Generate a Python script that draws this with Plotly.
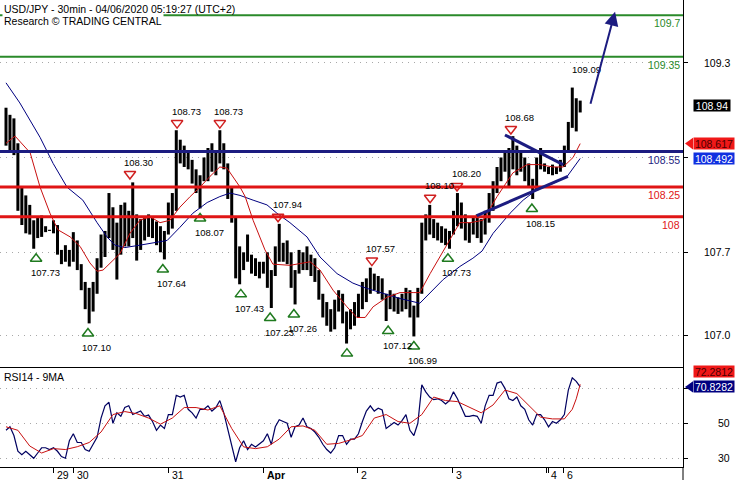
import plotly.graph_objects as go

# ---------------- data ----------------
bar_hour = list(range(146))
bar_high = [108.92,108.86,108.83,108.62,108.25,108.18,108.10,107.97,108.00,108.01,
            107.92,107.89,107.97,107.93,107.72,107.76,107.72,107.87,107.80,107.60,
            107.45,107.40,107.45,107.65,107.85,107.88,108.20,108.08,107.95,108.10,
            108.12,108.05,108.29,108.02,107.98,108.00,108.02,108.00,107.96,107.92,
            107.88,108.12,108.20,108.73,108.65,108.60,108.55,108.48,108.40,108.35,
            108.50,108.58,108.62,108.55,108.73,108.62,108.45,108.25,108.00,107.75,
            107.70,107.85,107.68,107.65,107.62,107.62,107.70,107.55,107.75,107.94,
            107.78,107.80,107.70,107.55,107.72,107.70,107.75,107.68,107.65,107.55,
            107.35,107.28,107.22,107.30,107.38,107.35,107.20,107.22,107.28,107.35,
            107.45,107.48,107.57,107.52,107.50,107.48,107.35,107.38,107.35,107.32,
            107.35,107.40,107.38,107.25,107.40,107.95,108.02,108.10,107.98,107.95,
            107.92,107.90,107.88,108.05,108.20,108.12,108.02,107.95,108.00,108.02,
            107.98,108.05,108.20,108.30,108.42,108.50,108.55,108.58,108.68,108.60,
            108.55,108.50,108.45,108.32,108.50,108.58,108.45,108.42,108.44,108.42,
            108.48,108.60,108.80,109.09,109.00,108.98]
bar_low = [108.60,108.55,108.52,108.05,107.93,107.86,107.85,107.73,107.82,107.83,
           107.87,107.88,107.86,107.68,107.60,107.62,107.58,107.62,107.55,107.38,
           107.22,107.10,107.20,107.35,107.57,107.66,107.82,107.72,107.47,107.68,
           107.75,107.75,107.82,107.63,107.72,107.80,107.83,107.82,107.76,107.70,
           107.64,107.85,107.90,108.05,108.45,108.42,108.40,108.28,108.20,108.07,
           108.30,108.30,108.38,108.35,108.45,108.40,108.15,107.95,107.48,107.43,
           107.55,107.62,107.52,107.50,107.48,107.52,107.40,107.23,107.50,107.62,
           107.62,107.60,107.40,107.26,107.52,107.55,107.55,107.50,107.45,107.30,
           107.15,107.08,107.03,107.05,107.20,107.10,106.93,107.05,107.08,107.15,
           107.22,107.28,107.35,107.38,107.35,107.30,107.12,107.22,107.20,107.18,
           107.20,107.22,107.15,106.99,107.15,107.35,107.80,107.85,107.82,107.80,
           107.78,107.76,107.73,107.85,107.92,107.90,107.80,107.78,107.85,107.82,
           107.78,107.85,107.95,108.05,108.20,108.30,108.38,108.25,108.40,108.35,
           108.38,108.30,108.25,108.15,108.22,108.40,108.38,108.36,108.35,108.36,
           108.38,108.42,108.55,108.75,108.72,108.88]
last_price = 108.94

ma_fast_x = [0, 2.3, 6.1, 8.6, 11.1, 13.1, 16.2, 18.7, 21.2, 23, 24.5, 27, 28.8, 31.3, 33.8, 36.4,
             38.9, 41.4, 43.9, 46.5, 49, 51.5, 54, 55.8, 57.8, 59.1, 60.4, 62.4, 65.4, 67.4, 71.7,
             76.8, 79.3, 82.6, 86.1, 88.6, 90.7, 92.7, 96.2, 99.5, 102.8, 104.5, 107.1, 109.6,
             112.1, 114.6, 117.2, 120.5, 124, 128, 131.6, 134.8, 138.1, 140.7, 143.2, 145]
ma_fast_y = [108.62, 108.68, 108.54, 108.25, 108.03, 107.89, 107.83, 107.75, 107.61, 107.54, 107.55,
             107.63, 107.69, 107.86, 107.97, 108.00, 107.95, 107.97, 108.08, 108.17, 108.25, 108.34,
             108.42, 108.41, 108.31, 108.25, 108.17, 107.97, 107.72, 107.60, 107.59, 107.62, 107.55,
             107.38, 107.24, 107.15, 107.15, 107.24, 107.32, 107.36, 107.36, 107.36, 107.52, 107.66,
             107.80, 107.95, 107.95, 107.97, 108.17, 108.37, 108.44, 108.44, 108.42, 108.42, 108.50,
             108.617]
ma_slow_x = [0, 3.5, 8.6, 11.9, 15.4, 19.4, 23, 25.5, 27.5, 30, 33.8, 40.7, 43.9, 47.2, 50.8, 54,
             56.6, 59.1, 62.4, 65.9, 68.4, 71.7, 76, 79.3, 83.6, 87.6, 90.7, 94.4, 99.5, 104.5,
             107.1, 110.4, 114.6, 117.9, 120.2, 123, 127.3, 130.6, 134.1, 138.1, 141.7, 145]
ma_slow_y = [109.13, 108.96, 108.67, 108.45, 108.25, 108.14, 107.95, 107.83, 107.76, 107.74, 107.76,
             107.80, 107.91, 108.03, 108.12, 108.17, 108.20, 108.18, 108.14, 108.10, 108.03, 107.95,
             107.83, 107.66, 107.52, 107.44, 107.40, 107.36, 107.31, 107.27, 107.36, 107.47, 107.58,
             107.65, 107.71, 107.86, 108.03, 108.14, 108.23, 108.28, 108.34, 108.492]

rsi = [46,48,43,34,32,34,32,30,33,36,
       36,35,36,34,31,30,40,44,39,39,
       35,34,38,42,53,60,62,50,56,54,
       59,60,55,56,57,54,54.7,51,46,49,
       47,55,55,66,65,66,58,56,53,58,
       58,60,57,59,63,56,47,37,28,36,
       40,35,38,36.5,38,40,44,38,48,52,
       51,50,42,48,49,53,48,47,45,42,
       38,35,33,36,43,43,38,41,41,44,
       51,57,60,57,58.6,57.6,47,49,50.5,49,
       51.5,55,46,43,50,72,68,65,63.5,64,
       63,61,63,68,64,59,54,54,54.5,54,
       50,60,66,66,73,73.8,70,64,63,65,
       60,58,52,49,55,55,52,48,51,50,
       52,55,69,76,74,70.8282]
rsi_ma_x = [0,3,6,9,12,15,18,21,24,27,30,33,36,39,42,45,48,51,54,57,60,63,66,69,72,75,78,81,
            84,87,90,93,96,99,102,105,108,111,114,117,120,123,126,129,132,135,138,141,143,144,145]
rsi_ma_y = [48,46,37,33,35.5,35,36.6,39,45,55,56.7,55.5,53,49.5,53,59,59,57.6,60,47,36.5,35.5,
            36.6,41,48,48.5,46,38,38.5,40.5,43,53,55,51,50,55,65,63,62.4,59,56,60.5,69,67,60,
            53.5,52.5,52.5,58,64,72.2812]

levels = [109.7, 109.35, 108.55, 108.25, 108.0]
level_text = ["109.7", "109.35", "108.55", "108.25", "108"]

trend_down_x = [126.0, 140.7]
trend_down_y = [108.69, 108.44]
trend_up_x = [118.9, 141.9]
trend_up_y = [108.01, 108.34]
forecast_x = [147.5, 153.8]
forecast_y = [108.94, 109.73]

pivot_high_x = [31.3, 43.2, 54.0, 68.7, 92.4, 107.1, 113.9, 127.5]
pivot_high_v = [108.30, 108.73, 108.73, 107.94, 107.57, 108.10, 108.20, 108.68]
pivot_low_x = [7.6, 20.7, 39.6, 49.0, 59.3, 66.7, 72.7, 86.1, 96.5, 103.0, 111.6, 132.8]
pivot_low_v = [107.73, 107.10, 107.64, 108.07, 107.43, 107.23, 107.26, 106.93, 107.12, 106.99, 107.73, 108.15]
pivot_low_show = [True, True, True, True, True, True, True, False, True, True, True, True]
session_high_x = 143.2
session_high_v = 109.09

price_ticks = [109.3, 108.5, 107.7, 107.0]
price_tick_text = ["109.3", "", "107.7", "107.0"]
rsi_ticks = [70, 50, 30]
rsi_tick_text = ["", "50", "30"]
day_ticks = [11.95, 17.0, 41.0, 65.0, 88.7, 112.7, 136.5, 137.0, 140.7]
day_text = ["29", "30", "31", "<b>Apr</b>", "2", "3", "4", "", "6"]

# ---------------- styling ----------------
FONT = "Liberation Sans, Arial, sans-serif"
NAVY = "#1c1c80"
RED = "#e01515"
GREEN = "#2a8a2a"
X_RANGE = [-1.515, 170.96]
P_RANGE = [106.732, 109.829]
R_RANGE = [25.0, 82.2]
RSI_FRAC = 100 / 467
BOX_X = 693 / 683
PTR_X = 685 / 683
TICK_X = 732 / 683

fig = go.Figure()

bx, by = [], []
for h, hi, lo in zip(bar_hour, bar_high, bar_low):
    bx += [h, h, None]
    by += [lo, hi, None]
fig.add_trace(go.Scatter(x=bx, y=by, mode="lines", line=dict(color="black", width=3),
                         xaxis="x", yaxis="y", hoverinfo="skip"))
fig.add_trace(go.Scatter(x=ma_slow_x, y=ma_slow_y, mode="lines", line=dict(color="#000080", width=1),
                         xaxis="x", yaxis="y"))
fig.add_trace(go.Scatter(x=ma_fast_x, y=ma_fast_y, mode="lines", line=dict(color="#c81010", width=1),
                         xaxis="x", yaxis="y"))

fig.add_trace(go.Scatter(x=pivot_high_x, y=[v + 0.06 for v in pivot_high_v], mode="markers",
                         marker=dict(symbol="triangle-down-open", size=10, color="#d02020", line=dict(width=1.5)),
                         xaxis="x", yaxis="y"))
fig.add_trace(go.Scatter(x=pivot_low_x, y=[v - 0.085 for v in pivot_low_v], mode="markers",
                         marker=dict(symbol="triangle-up-open", size=10, color="#1f7a1f", line=dict(width=1.5)),
                         xaxis="x", yaxis="y"))

fig.add_trace(go.Scatter(x=bar_hour, y=rsi, mode="lines", line=dict(color="#000060", width=1.2),
                         xaxis="x2", yaxis="y2"))
fig.add_trace(go.Scatter(x=rsi_ma_x, y=rsi_ma_y, mode="lines", line=dict(color="#c81010", width=1),
                         xaxis="x2", yaxis="y2"))

shapes = []
lvl_colors = [GREEN, GREEN, NAVY, RED, RED]
lvl_widths = [2, 2, 3, 3, 3]
for v, c, w in zip(levels, lvl_colors, lvl_widths):
    shapes.append(dict(type="line", xref="paper", yref="y", x0=0, x1=1, y0=v, y1=v,
                       line=dict(color=c, width=w), layer="above"))
shapes.append(dict(type="line", xref="x", yref="y", x0=trend_down_x[0], x1=trend_down_x[1],
                   y0=trend_down_y[0], y1=trend_down_y[1], line=dict(color=NAVY, width=3)))
shapes.append(dict(type="line", xref="x", yref="y", x0=trend_up_x[0], x1=trend_up_x[1],
                   y0=trend_up_y[0], y1=trend_up_y[1], line=dict(color=NAVY, width=3)))
shapes.append(dict(type="line", xref="paper", yref="paper", x0=1, x1=1, y0=-13 / 467, y1=0,
                   line=dict(color="black", width=1)))

def pointer(yref, v, half, color):
    shapes.append(dict(type="path", xref="paper", yref=yref,
                       path=f"M {PTR_X},{v} L {BOX_X},{v + half} L {BOX_X},{v - half} Z",
                       fillcolor=color, line=dict(width=0)))

pointer("y", ma_fast_y[-1], 0.05, "#f01818")
pointer("y2", rsi[-1], 3.2, "#000080")

ann = []
ann.append(dict(text="USD/JPY - 30min - 04/06/2020 05:19:27 (UTC+2)", xref="paper", yref="paper",
                x=0, y=1, xanchor="left", yanchor="top", xshift=2, yshift=-1, showarrow=False,
                font=dict(family=FONT, size=10.5, color="black")))
ann.append(dict(text="Research © TRADING CENTRAL", xref="paper", yref="paper",
                x=0, y=1, xanchor="left", yanchor="top", xshift=2, yshift=-13, showarrow=False,
                bgcolor="white", borderpad=1, font=dict(family=FONT, size=10.5, color="black")))
ann.append(dict(text="RSI14 - 9MA", xref="paper", yref="paper", x=0, y=RSI_FRAC, xanchor="left",
                yanchor="top", xshift=2, yshift=-2, showarrow=False,
                font=dict(family=FONT, size=10.5, color="black")))

for v, t, c in zip(levels, level_text, lvl_colors):
    ann.append(dict(text=t, xref="paper", yref="y", x=1, y=v, xanchor="right", yanchor="middle",
                    xshift=-1, yshift=-8, showarrow=False, font=dict(family=FONT, size=10.5, color=c)))

for x, v in zip(pivot_high_x, pivot_high_v):
    ann.append(dict(text=f"{v:.2f}", xref="x", yref="y", x=x, y=v + 0.06, xshift=9, yshift=12,
                    showarrow=False, font=dict(family=FONT, size=9.5, color="black")))
for x, v, s in zip(pivot_low_x, pivot_low_v, pivot_low_show):
    if s:
        ann.append(dict(text=f"{v:.2f}", xref="x", yref="y", x=x, y=v - 0.085, xshift=9, yshift=-14,
                        showarrow=False, font=dict(family=FONT, size=9.5, color="black")))
ann.append(dict(text=f"{session_high_v:.2f}", xref="x", yref="y", x=session_high_x, y=session_high_v,
                xshift=13, yshift=18, showarrow=False, font=dict(family=FONT, size=9.5, color="black")))

ann.append(dict(text="", x=forecast_x[1], y=forecast_y[1], ax=forecast_x[0], ay=forecast_y[0],
                xref="x", yref="y", axref="x", ayref="y", showarrow=True, arrowhead=2,
                arrowsize=1.4, arrowwidth=2, arrowcolor=NAVY))

for v, t in zip(price_ticks, price_tick_text):
    if t:
        ann.append(dict(text=t, xref="paper", yref="y", x=TICK_X, y=v, xanchor="right", yanchor="middle",
                        showarrow=False, font=dict(family=FONT, size=10.5, color="black")))
for v, t in zip(rsi_ticks, rsi_tick_text):
    if t:
        ann.append(dict(text=t, xref="paper", yref="y2", x=TICK_X, y=v, xanchor="right", yanchor="middle",
                        showarrow=False, font=dict(family=FONT, size=10.5, color="black")))

def box(yref, v, text, bg, fg, yshift=0, width=40):
    ann.append(dict(text=text, xref="paper", yref=yref, x=BOX_X, y=v, xanchor="left", yanchor="middle",
                    yshift=yshift, showarrow=False, bgcolor=bg, borderpad=0, width=width, height=11,
                    font=dict(family=FONT, size=10.5, color=fg)))

box("y", last_price, f"{last_price:.2f}", "black", "white", width=36)
box("y", ma_fast_y[-1], f"{ma_fast_y[-1]:.3f}", "#f01818", "#4a0000")
box("y", ma_slow_y[-1], f"{ma_slow_y[-1]:.3f}", "#1030e0", "white")
box("y2", rsi_ma_y[-1], f"{rsi_ma_y[-1]:.4f}", "#f01818", "#4a0000", yshift=13)
box("y2", rsi[-1], f"{rsi[-1]:.4f}", "#000080", "white")

for x, t in zip(day_ticks, day_text):
    if t:
        ann.append(dict(text=t, xref="x2", yref="paper", x=x, y=0, xanchor="left", yanchor="middle",
                        xshift=2, yshift=-8, showarrow=False, font=dict(family=FONT, size=10.5, color="black")))

grid = dict(showgrid=True, gridcolor="#a8a8a8", griddash="1px,5px", gridwidth=1)
fig.update_layout(
    width=735, height=480, margin=dict(l=0, r=52, t=0, b=13),
    paper_bgcolor="white", plot_bgcolor="white", showlegend=False,
    xaxis=dict(domain=[0, 1], range=X_RANGE, anchor="y", showticklabels=False, ticks="",
               showgrid=False, zeroline=False, showline=True, linecolor="black", linewidth=1),
    yaxis=dict(domain=[RSI_FRAC, 1], range=P_RANGE, anchor="x", side="right", tickvals=price_ticks,
               showticklabels=False, ticks="outside", ticklen=4, tickcolor="black", zeroline=False,
               showline=True, linecolor="black", linewidth=1, **grid),
    xaxis2=dict(domain=[0, 1], range=X_RANGE, anchor="y2", tickvals=day_ticks, ticks="outside",
                ticklen=5, tickcolor="black", showticklabels=False, showgrid=False, zeroline=False,
                showline=True, linecolor="black", linewidth=1),
    yaxis2=dict(domain=[0, RSI_FRAC], range=R_RANGE, anchor="x2", side="right", tickvals=rsi_ticks,
                showticklabels=False, ticks="outside", ticklen=4, tickcolor="black", zeroline=False,
                showline=True, linecolor="black", linewidth=1, **grid),
    shapes=shapes, annotations=ann,
)

fig.write_html("out.html", config={"displayModeBar": False},
               post_script="document.body.style.margin='0';document.body.style.overflow='hidden';")
